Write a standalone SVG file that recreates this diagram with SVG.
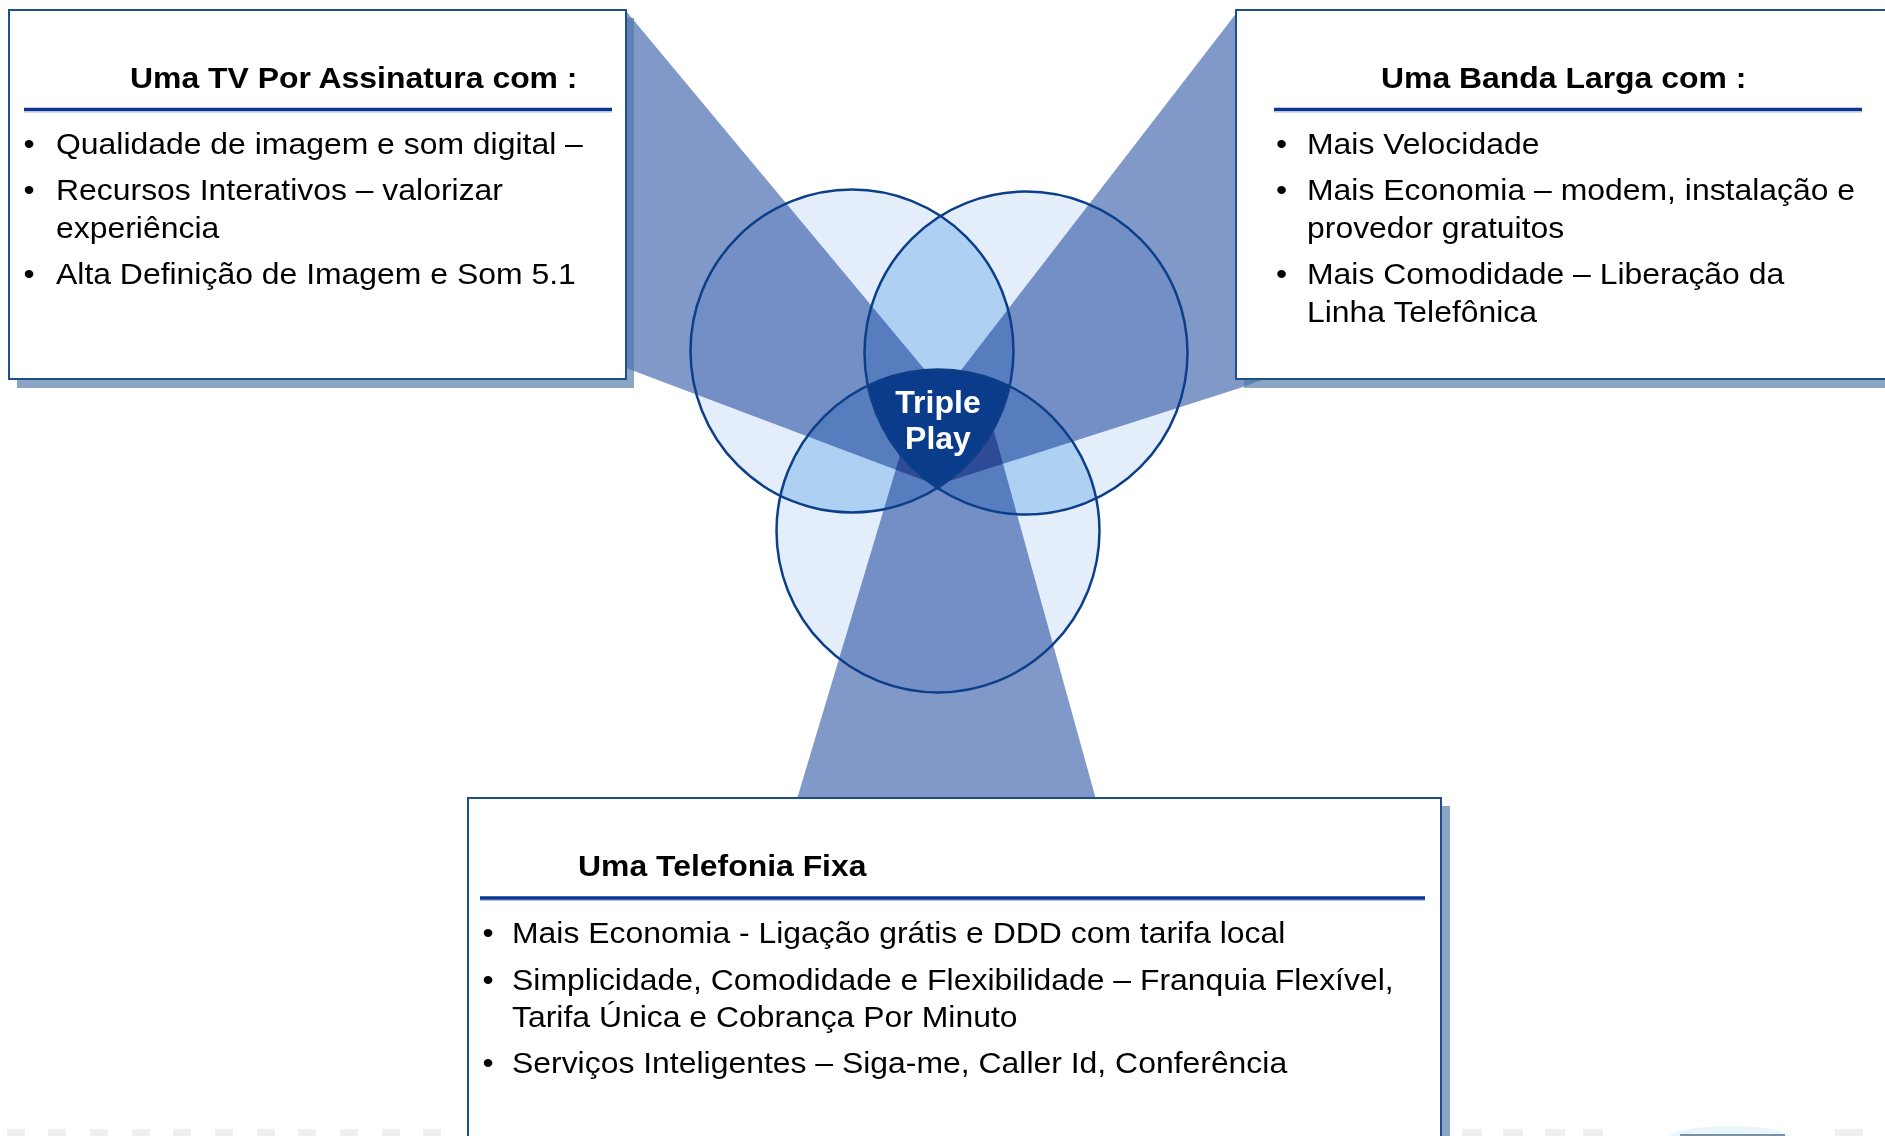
<svg xmlns="http://www.w3.org/2000/svg" width="1885" height="1136" viewBox="0 0 1885 1136">
<defs>
<style>
.box{fill:#fff;stroke:#1F4E8D;stroke-width:2}
.shadow{fill:#4B76A4;fill-opacity:0.65}
.rule{stroke:#0A3590;stroke-width:3.5}
.rule2{stroke:#A9BEE0;stroke-width:1}
.h{font-family:"Liberation Sans",Arial,sans-serif;font-weight:bold;font-size:30px;fill:#000}
.t{font-family:"Liberation Sans",Arial,sans-serif;font-size:30px;fill:#000}
.beam{fill:#8199C9}
.c{fill:#E4EEFB}
.lens{fill:#ADD0F3}
.ring{fill:none;stroke:#0D3F88;stroke-width:2.5}
.tp{font-family:"Liberation Sans",Arial,sans-serif;font-weight:bold;font-size:32px;fill:#fff;text-anchor:middle}
.dash{fill:#F0F0F0}
</style>
<clipPath id="cL"><circle cx="852" cy="351" r="161.5"/></clipPath>
<clipPath id="cR"><circle cx="1026" cy="353" r="161.5"/></clipPath>
</defs>
<rect x="0" y="0" width="1885" height="1136" fill="#fff"/>

<g id="venn-fill">
<circle class="c" cx="852" cy="351" r="161.5"/>
<circle class="c" cx="1026" cy="353" r="161.5"/>
<circle class="c" cx="938" cy="531" r="161.5"/>
<circle class="lens" cx="1026" cy="353" r="161.5" clip-path="url(#cL)"/>
<circle class="lens" cx="938" cy="531" r="161.5" clip-path="url(#cL)"/>
<circle class="lens" cx="938" cy="531" r="161.5" clip-path="url(#cR)"/>
</g>

<g id="connectors" style="mix-blend-mode:multiply">
<polygon class="beam" style="mix-blend-mode:multiply" points="600,11 626,11 950,400 939,486 626,368 600,368"/>
<polygon class="beam" style="mix-blend-mode:multiply" points="1262,11 1238,11 938,400 940,484 1243,387 1262,380"/>
<polygon class="beam" style="mix-blend-mode:multiply" points="793.7,810 1098.9,810 990.9,420 910.6,420"/>
</g>

<g id="triple-play">
<g clip-path="url(#cL)"><circle cx="938" cy="531" r="161.5" fill="#0B3C8C" clip-path="url(#cR)"/></g>
<circle class="ring" cx="852" cy="351" r="161.5"/>
<circle class="ring" cx="1026" cy="353" r="161.5"/>
<circle class="ring" cx="938" cy="531" r="161.5"/>
<text class="tp" x="938" y="413">Triple</text>
<text class="tp" x="938" y="449">Play</text>
</g>

<g id="footer-marks">
<rect class="dash" x="7" y="1129" width="18" height="7"/>
<rect class="dash" x="48" y="1129" width="18" height="7"/>
<rect class="dash" x="90" y="1129" width="18" height="7"/>
<rect class="dash" x="132" y="1129" width="18" height="7"/>
<rect class="dash" x="173" y="1129" width="18" height="7"/>
<rect class="dash" x="215" y="1129" width="18" height="7"/>
<rect class="dash" x="257" y="1129" width="18" height="7"/>
<rect class="dash" x="298" y="1129" width="18" height="7"/>
<rect class="dash" x="340" y="1129" width="18" height="7"/>
<rect class="dash" x="382" y="1129" width="18" height="7"/>
<rect class="dash" x="423" y="1129" width="18" height="7"/>
<rect class="dash" x="1462" y="1129" width="20" height="7"/>
<rect class="dash" x="1503" y="1129" width="20" height="7"/>
<rect class="dash" x="1545" y="1129" width="20" height="7"/>
<rect class="dash" x="1583" y="1129" width="20" height="7"/>
<rect class="dash" x="1835" y="1129" width="28" height="7"/>
<ellipse cx="1730" cy="1138" rx="62" ry="12" fill="#E8F6FC"/>
<rect x="1680" y="1134" width="105" height="2" fill="#7D90A3"/>
</g>

<g id="tv-box">
<rect class="shadow" x="17" y="18" width="617" height="370"/>
<rect class="box" x="9" y="10" width="617" height="369"/>
<text class="h" transform="matrix(1.064 0 0 1 130 88)">Uma TV Por Assinatura com :</text>
<line class="rule" x1="24" y1="109.5" x2="612" y2="109.5"/>
<line class="rule2" x1="24" y1="112" x2="612" y2="112"/>
<text class="t" transform="matrix(1.064 0 0 1 23.5 154)">•</text>
<text class="t" transform="matrix(1.064 0 0 1 56 154)">Qualidade de imagem e som digital –</text>
<text class="t" transform="matrix(1.064 0 0 1 23.5 199.5)">•</text>
<text class="t" transform="matrix(1.064 0 0 1 56 199.5)">Recursos Interativos – valorizar</text>
<text class="t" transform="matrix(1.064 0 0 1 56 237.5)">experiência</text>
<text class="t" transform="matrix(1.064 0 0 1 23.5 284)">•</text>
<text class="t" transform="matrix(1.064 0 0 1 56 284)">Alta Definição de Imagem e Som 5.1</text>
</g>

<g id="banda-larga-box">
<rect class="shadow" x="1244" y="18" width="700" height="370"/>
<rect class="box" x="1236" y="10" width="700" height="369"/>
<text class="h" transform="matrix(1.064 0 0 1 1381 88)">Uma Banda Larga com :</text>
<line class="rule" x1="1274" y1="109.5" x2="1862" y2="109.5"/>
<line class="rule2" x1="1274" y1="112" x2="1862" y2="112"/>
<text class="t" transform="matrix(1.064 0 0 1 1276 154)">•</text>
<text class="t" transform="matrix(1.064 0 0 1 1307 154)">Mais Velocidade</text>
<text class="t" transform="matrix(1.064 0 0 1 1276 199.5)">•</text>
<text class="t" transform="matrix(1.064 0 0 1 1307 199.5)">Mais Economia – modem, instalação e</text>
<text class="t" transform="matrix(1.064 0 0 1 1307 237.5)">provedor gratuitos</text>
<text class="t" transform="matrix(1.064 0 0 1 1276 284)">•</text>
<text class="t" transform="matrix(1.064 0 0 1 1307 284)">Mais Comodidade – Liberação da</text>
<text class="t" transform="matrix(1.064 0 0 1 1307 322)">Linha Telefônica</text>
</g>

<g id="telefonia-box">
<rect class="shadow" x="477" y="806" width="973" height="400"/>
<rect class="box" x="468" y="798" width="973" height="400"/>
<text class="h" transform="matrix(1.064 0 0 1 578 876)">Uma Telefonia Fixa</text>
<line class="rule" x1="480" y1="898" x2="1425" y2="898"/>
<line class="rule2" x1="480" y1="900.5" x2="1425" y2="900.5"/>
<text class="t" transform="matrix(1.064 0 0 1 482.5 943)">•</text>
<text class="t" transform="matrix(1.064 0 0 1 512 943)">Mais Economia - Ligação grátis e DDD com tarifa local</text>
<text class="t" transform="matrix(1.064 0 0 1 482.5 990)">•</text>
<text class="t" transform="matrix(1.064 0 0 1 512 990)">Simplicidade, Comodidade e Flexibilidade – Franquia Flexível,</text>
<text class="t" transform="matrix(1.064 0 0 1 512 1027)">Tarifa Única e Cobrança Por Minuto</text>
<text class="t" transform="matrix(1.064 0 0 1 482.5 1073)">•</text>
<text class="t" transform="matrix(1.064 0 0 1 512 1073)">Serviços Inteligentes – Siga-me, Caller Id, Conferência</text>
</g>
</svg>
